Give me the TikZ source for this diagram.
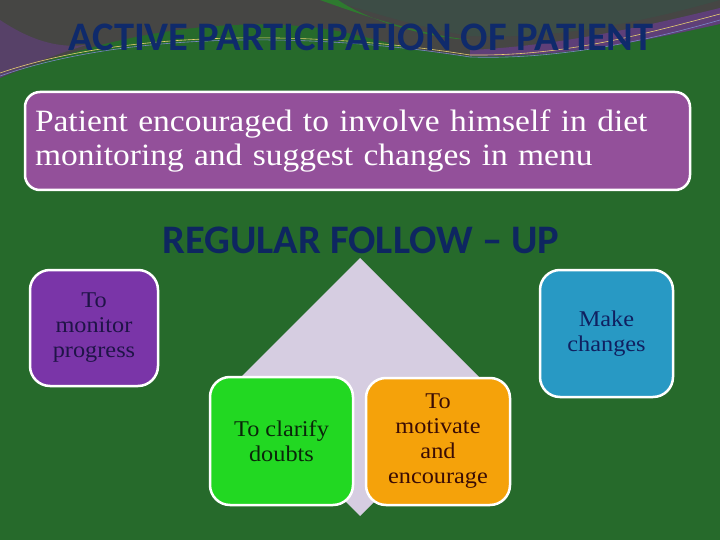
\documentclass[tikz,border=0pt]{standalone}
\usepackage{fontspec}
\setmainfont{Liberation Serif}
\newfontfamily\bodyfont[FakeStretch=1.08]{Liberation Serif}
\newfontfamily\headfont{Carlito}
\definecolor{bggreen}{HTML}{266A2B}
\definecolor{topgray}{HTML}{464644}
\definecolor{topteal}{HTML}{3D4D46}
\definecolor{swoosh}{HTML}{2E7A2F}
\definecolor{purpband}{HTML}{5E3F78}
\definecolor{bigpurple}{HTML}{93509A}
\definecolor{monpurple}{HTML}{7A35A8}
\definecolor{brightgreen}{HTML}{22D822}
\definecolor{orangebox}{HTML}{F5A20A}
\definecolor{bluebox}{HTML}{2899C4}
\definecolor{lavender}{HTML}{D6CDE1}
\definecolor{headblue}{HTML}{0F2A6B}
\definecolor{txnavy}{HTML}{1F1447}
\definecolor{txgreen}{HTML}{0A260A}
\definecolor{txbrown}{HTML}{3A0C05}
\definecolor{txblue}{HTML}{102060}
\definecolor{thinyellow}{HTML}{E8D070}
\definecolor{thinblue}{HTML}{7A86C8}
\tikzset{
  box/.style={draw=white, line width=2.5pt, rounded corners=20pt, align=center,
    font=\bodyfont\fontsize{22.5}{25}\selectfont, inner sep=2pt},
  heading/.style={font=\headfont\bfseries\fontsize{40.5}{44}\selectfont, text=headblue}
}
\begin{document}
\begin{tikzpicture}[x=1pt,y=-1pt]
\useasboundingbox (0,0) rectangle (720,540);
% background
\fill[bggreen] (0,0) rectangle (720,540);
% top decorative regions
\fill[topgray] (0,0) -- (720,0) -- (720,24) .. controls (620,40) and (540,60) .. (470,56)
  .. controls (400,52) and (360,30) .. (300,26) .. controls (220,20) and (120,30) .. (0,78) -- cycle;
\fill[purpband!70!topgray] (0,20) .. controls (30,40) and (60,50) .. (90,44)
  .. controls (50,56) and (20,68) .. (0,78) -- cycle;
\fill[topteal] (330,0) .. controls (380,15) and (430,30) .. (470,36)
  .. controls (560,40) and (650,20) .. (720,0) -- cycle;
\fill[swoosh] (320,0) .. controls (370,18) and (420,34) .. (470,40)
  .. controls (430,38) and (370,22) .. (338,0) -- cycle;
\fill[purpband] (470,50) .. controls (560,46) and (650,25) .. (720,8) -- (720,24)
  .. controls (640,42) and (560,58) .. (470,56) -- cycle;
\draw[thinblue, line width=0.6pt] (0,76) .. controls (120,34) and (300,30) .. (470,57)
  .. controls (560,60) and (650,40) .. (720,20);
\draw[thinyellow, line width=0.6pt] (0,73) .. controls (120,32) and (300,28) .. (470,55)
  .. controls (560,56) and (630,38) .. (720,14);
% title
\node[heading] (title) at (361,37) {ACTIVE PARTICIPATION OF PATIENT};
% big box
\node[box, fill=bigpurple, rounded corners=15pt, minimum width=665pt, minimum height=98pt,
  text width=645pt, align=left, text=white, font=\bodyfont\fontsize{31}{34}\selectfont]
  (big) at (357.5,141) {Patient encouraged to involve himself in diet\\monitoring and suggest changes in menu};
% subheading
\node[heading, text=headblue!90!black] (sub) at (361,240) {REGULAR FOLLOW – UP};
% diamond
\fill[lavender] (360,258) -- (489,387) -- (360,516) -- (231,387) -- cycle;
% boxes
\node[box, fill=monpurple, text=txnavy, minimum width=128pt, minimum height=116pt]
  (mon) at (94,328) {To\\monitor\\progress};
\node[box, fill=bluebox, text=txblue, minimum width=133pt, minimum height=127pt]
  (make) at (606.5,333.5) {Make\\changes};
\node[box, fill=brightgreen, text=txgreen, minimum width=143pt, minimum height=128pt]
  (clar) at (281.5,441) {To clarify\\doubts};
\node[box, fill=orangebox, text=txbrown, minimum width=144pt, minimum height=127pt]
  (mot) at (438,441.5) {To\\motivate\\and\\encourage};
\end{tikzpicture}
\end{document}
